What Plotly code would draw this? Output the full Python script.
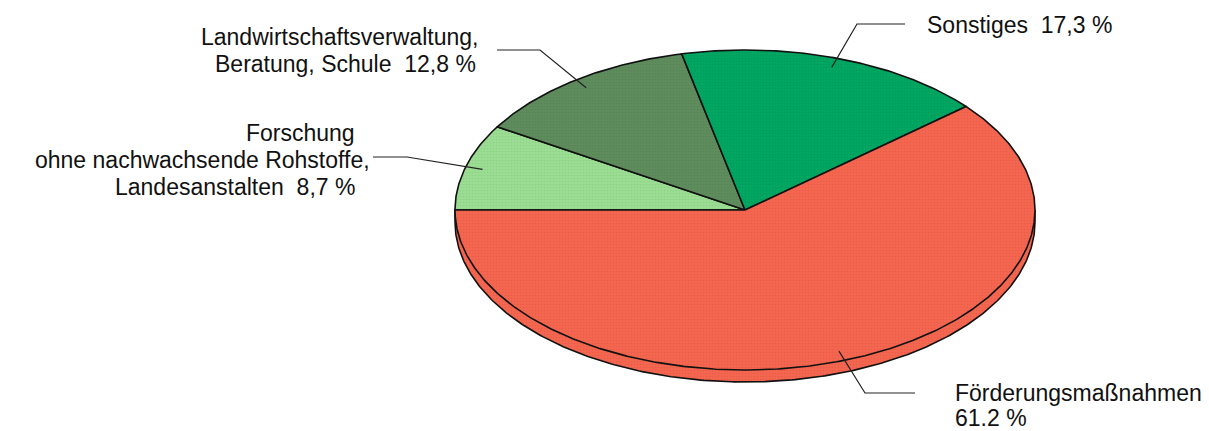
import numpy as np
import plotly.graph_objects as go

# Anteile der Ausgaben (Prozent), im Uhrzeigersinn ab 9 Uhr
categories = [
    "Forschung ohne nachwachsende Rohstoffe, Landesanstalten",
    "Landwirtschaftsverwaltung, Beratung, Schule",
    "Sonstiges",
    "Förderungsmaßnahmen",
]
shares = [8.7, 12.8, 17.3, 61.2]
label_lines = [
    ["Forschung", "ohne nachwachsende Rohstoffe,", "Landesanstalten  8,7 %"],
    ["Landwirtschaftsverwaltung,", "Beratung, Schule  12,8 %"],
    ["Sonstiges  17,3 %"],
    ["Förderungsmaßnahmen", "61.2 %"],
]
colors = ["#9bdd93", "#5f8c5d", "#00a662", "#f4664f"]
dot_colors = ["#86c57f", "#4f7a4d", "#00914f", "#dc5441"]

# Geometrie der gekippten Torte (Pixelkoordinaten)
CX, CY = 745, 210
RX, RY = 290, 160
DEPTH = 12
START_DEG = 180.0
LEADER_FRAC = 0.94

# Beschriftungs-Layout: Textanker, Knickpunkt und Ende der Hinweislinie
label_layout = [
    dict(xanchor="right", ys=[133, 160, 187], xs=[357, 372, 357], elbow=(407, 157), end=(373, 157)),
    dict(xanchor="right", ys=[37, 64], xs=[480, 478], elbow=(540, 50), end=(497, 50)),
    dict(xanchor="left", ys=[25], xs=[925], elbow=(857, 24), end=(905, 24)),
    dict(xanchor="left", ys=[393, 418], xs=[953, 953], elbow=(865, 393), end=(915, 393)),
]

FONT = dict(family="Liberation Sans, Arial, sans-serif", size=23, color="#111111")


def ellipse_pt(theta_deg, dy=0.0, frac=1.0):
    t = np.radians(theta_deg)
    return CX + frac * RX * np.cos(t), CY - frac * RY * np.sin(t) + dy


fig = go.Figure()

# Slice angle boundaries (degrees, decreasing = clockwise on screen)
total = float(sum(shares))
bounds = [START_DEG]
for v in shares:
    bounds.append(bounds[-1] - 360.0 * v / total)

# Side wall of the lower half (visible front edge)
for i, v in enumerate(shares):
    a0, a1 = bounds[i], bounds[i + 1]
    segs = []
    for off in (0.0, -360.0, 360.0):
        l2 = max(min(a0, a1) + off, -180.0)
        h2 = min(max(a0, a1) + off, 0.0)
        if h2 > l2:
            segs.append((l2, h2))
    for l2, h2 in segs:
        th = np.linspace(h2, l2, 200)
        xt, yt = ellipse_pt(th)
        xb, yb = ellipse_pt(th[::-1], dy=DEPTH)
        fig.add_trace(go.Scatter(
            x=np.concatenate([xt, xb]), y=np.concatenate([yt, yb]),
            mode="lines", fill="toself", fillcolor=colors[i],
            fillpattern=dict(shape=".", size=3, solidity=0.25,
                             fgcolor=dot_colors[i], bgcolor=colors[i]),
            line=dict(width=0), hoverinfo="skip", showlegend=False))

# Outer bottom contour and the two short vertical edges
th = np.linspace(0, -180, 300)
xb, yb = ellipse_pt(th, dy=DEPTH)
fig.add_trace(go.Scatter(x=xb, y=yb, mode="lines", line=dict(color="#111111", width=1.6),
                         hoverinfo="skip", showlegend=False))
for ang in (0.0, 180.0):
    x0, y0 = ellipse_pt(ang)
    fig.add_trace(go.Scatter(x=[x0, x0], y=[y0, y0 + DEPTH], mode="lines",
                             line=dict(color="#111111", width=1.6),
                             hoverinfo="skip", showlegend=False))

# Top face slices
for i, v in enumerate(shares):
    a0, a1 = bounds[i], bounds[i + 1]
    n = max(int(abs(a0 - a1) * 2), 10)
    th = np.linspace(a0, a1, n)
    xs, ys = ellipse_pt(th)
    px = np.concatenate([[CX], xs, [CX]])
    py = np.concatenate([[CY], ys, [CY]])
    fig.add_trace(go.Scatter(
        x=px, y=py, mode="lines", fill="toself", fillcolor=colors[i],
        fillpattern=dict(shape=".", size=3, solidity=0.25,
                         fgcolor=dot_colors[i], bgcolor=colors[i]),
        line=dict(color="#111111", width=1.6), name=categories[i],
        hoverinfo="skip", showlegend=False))

# Leader lines and labels
for i, v in enumerate(shares):
    mid = (bounds[i] + bounds[i + 1]) / 2.0
    sx, sy = ellipse_pt(mid, frac=LEADER_FRAC)
    lay = label_layout[i]
    fig.add_trace(go.Scatter(
        x=[sx, lay["elbow"][0], lay["end"][0]],
        y=[sy, lay["elbow"][1], lay["end"][1]],
        mode="lines", line=dict(color="#222222", width=1.2),
        hoverinfo="skip", showlegend=False))
    for text, xx, yy in zip(label_lines[i], lay["xs"], lay["ys"]):
        fig.add_annotation(x=xx, y=yy, text=text, showarrow=False,
                           xanchor=lay["xanchor"], yanchor="middle",
                           font=FONT)

fig.update_xaxes(range=[0, 1209], visible=False, fixedrange=True)
fig.update_yaxes(range=[431, 0], visible=False, fixedrange=True)
fig.update_layout(width=1209, height=431, margin=dict(l=0, r=0, t=0, b=0),
                  paper_bgcolor="white", plot_bgcolor="white")

fig.write_html("out.html")
